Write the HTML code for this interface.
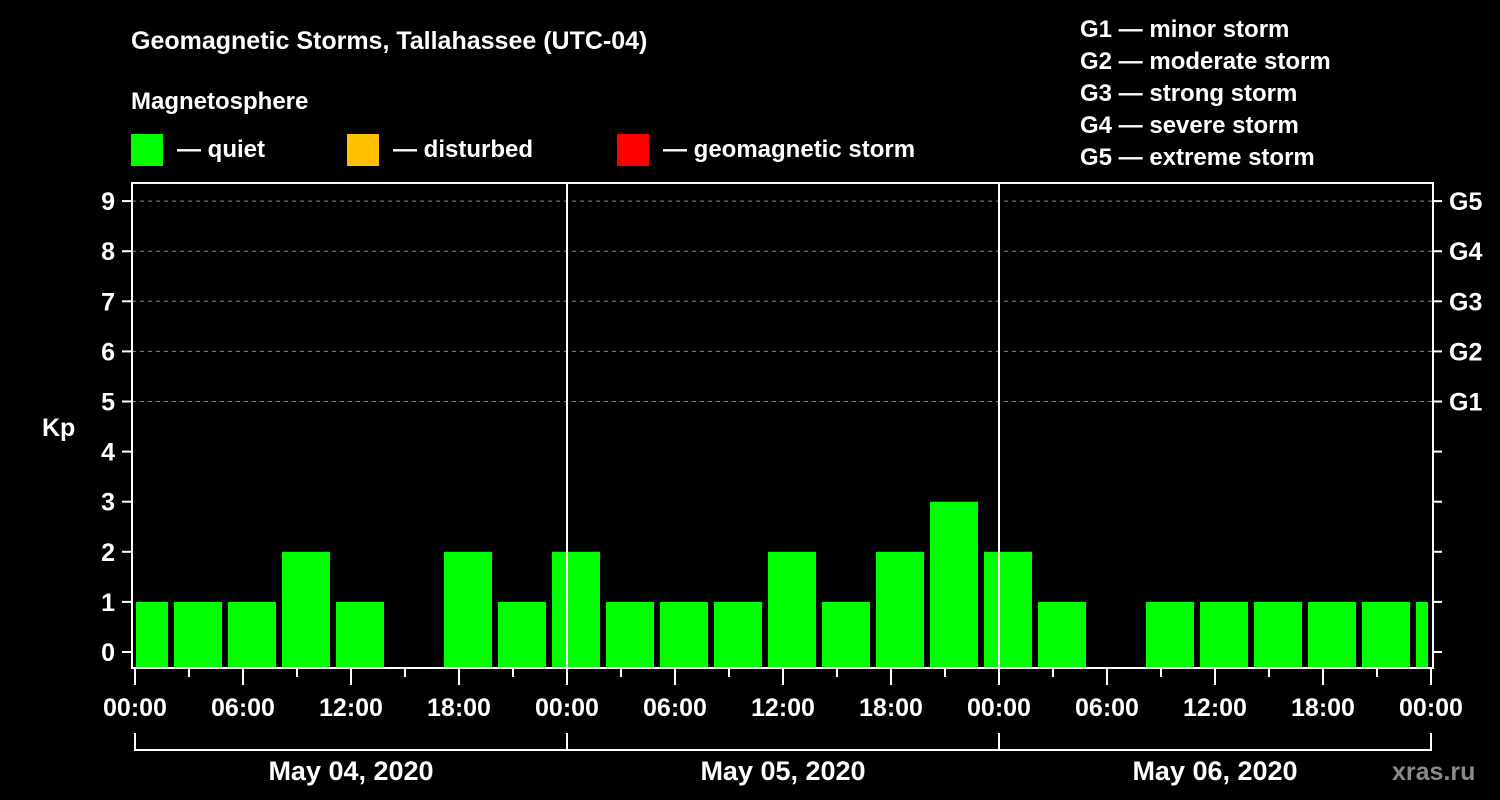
<!DOCTYPE html>
<html><head><meta charset="utf-8"><style>
html,body{margin:0;padding:0;background:#000;width:1500px;height:800px;overflow:hidden}
svg text{font-family:"Liberation Sans",sans-serif;font-weight:bold;fill:#fff}
</style></head><body>
<svg id="chart" width="1500" height="800" xmlns="http://www.w3.org/2000/svg">
<text x="131" y="49" font-size="25">Geomagnetic Storms, Tallahassee (UTC-04)</text>
<text x="131" y="109" font-size="24">Magnetosphere</text>
<g><rect x="131" y="134" width="32" height="32" fill="#00ff00"/><text x="177" y="157" font-size="24">— quiet</text></g>
<g><rect x="347" y="134" width="32" height="32" fill="#ffc000"/><text x="393" y="157" font-size="24">— disturbed</text></g>
<g><rect x="617" y="134" width="32" height="32" fill="#ff0000"/><text x="663" y="157" font-size="24">— geomagnetic storm</text></g>
<g font-size="24">
<text x="1080" y="37">G1 — minor storm</text>
<text x="1080" y="69">G2 — moderate storm</text>
<text x="1080" y="101">G3 — strong storm</text>
<text x="1080" y="133">G4 — severe storm</text>
<text x="1080" y="165">G5 — extreme storm</text>
</g>
<text x="42" y="436" font-size="25">Kp</text>
<text x="1392" y="780" font-size="25" fill="#888" style="fill:#8a8a8a">xras.ru</text>
<g id="grid"></g><g id="bars"></g><g id="axes"></g>
</svg>
<script>
const kpValues=[1,1,1,2,1,0,2,1,2,1,1,1,2,1,2,3,2,1,0,1,1,1,1,1,1];
const yTicks=[0,1,2,3,4,5,6,7,8,9];
const gLabels=["G1","G2","G3","G4","G5"];
const gLevels=[5,6,7,8,9];
const hourLabels=["00:00","06:00","12:00","18:00","00:00","06:00","12:00","18:00","00:00","06:00","12:00","18:00","00:00"];
const dayLabels=["May 04, 2020","May 05, 2020","May 06, 2020"];
const NS="http://www.w3.org/2000/svg";
const L=132,R=1433,T=183,B=668;
const y=v=>652-v*50.1;
const xh=h=>135+h*18; // hours from start
function mk(t,a,p){const e=document.createElementNS(NS,t);for(const k in a)e.setAttribute(k,a[k]);p.appendChild(e);return e;}
const grid=document.getElementById('grid'),bars=document.getElementById('bars'),axes=document.getElementById('axes');
gLevels.forEach(v=>{const l=mk('line',{x1:L,x2:R,y1:y(v),y2:y(v),stroke:'#888','stroke-dasharray':'4,4','stroke-width':1},grid);

});
kpValues.forEach((v,k)=>{if(v<=0)return;
const x0=Math.max(xh(k*3-5/6+0.0)-0,0);let xs=120+54*k;let xe=xs+48;xs=Math.max(xs,136);xe=Math.min(xe,1428);
const r=mk('rect',{x:xs,y:y(v),width:xe-xs,height:667-y(v),fill:v>=5?'#ff0000':(v>=4?'#ffc000':'#00ff00')},bars);

});
[xh(24),xh(48)].forEach(x=>{const l=mk('line',{x1:x,x2:x,y1:T,y2:B,stroke:'#fff','stroke-width':2},axes);

});
const f=mk('rect',{x:L,y:T,width:R-L,height:B-T,fill:'none',stroke:'#fff','stroke-width':2},axes);


yTicks.forEach(v=>{mk('line',{x1:122,x2:L,y1:y(v),y2:y(v),stroke:'#fff','stroke-width':2},axes);
mk('line',{x1:R,x2:1442,y1:y(v),y2:y(v),stroke:'#fff','stroke-width':2},axes);
const t=mk('text',{x:115,y:y(v)+9,'font-size':25,'text-anchor':'end'},axes);t.textContent=v;

});
gLabels.forEach((g,i)=>{const t=mk('text',{x:1449,y:y(gLevels[i])+9,'font-size':25},axes);t.textContent=g;

});
for(let h=0;h<=72;h+=3){const major=h%6===0;mk('line',{x1:xh(h),x2:xh(h),y1:B,y2:major?685:677,stroke:'#fff','stroke-width':2},axes);}
hourLabels.forEach((s,i)=>{const t=mk('text',{x:xh(i*6),y:716,'font-size':25,'text-anchor':'middle'},axes);t.textContent=s;

});
mk('path',{d:`M${xh(0)},733V750H${xh(72)}V733M${xh(24)},733V750M${xh(48)},733V750`,fill:'none',stroke:'#fff','stroke-width':2},axes);
dayLabels.forEach((s,i)=>{const t=mk('text',{x:xh(i*24+12),y:780,'font-size':27,'text-anchor':'middle'},axes);t.textContent=s;

});
</script>
</body></html>
